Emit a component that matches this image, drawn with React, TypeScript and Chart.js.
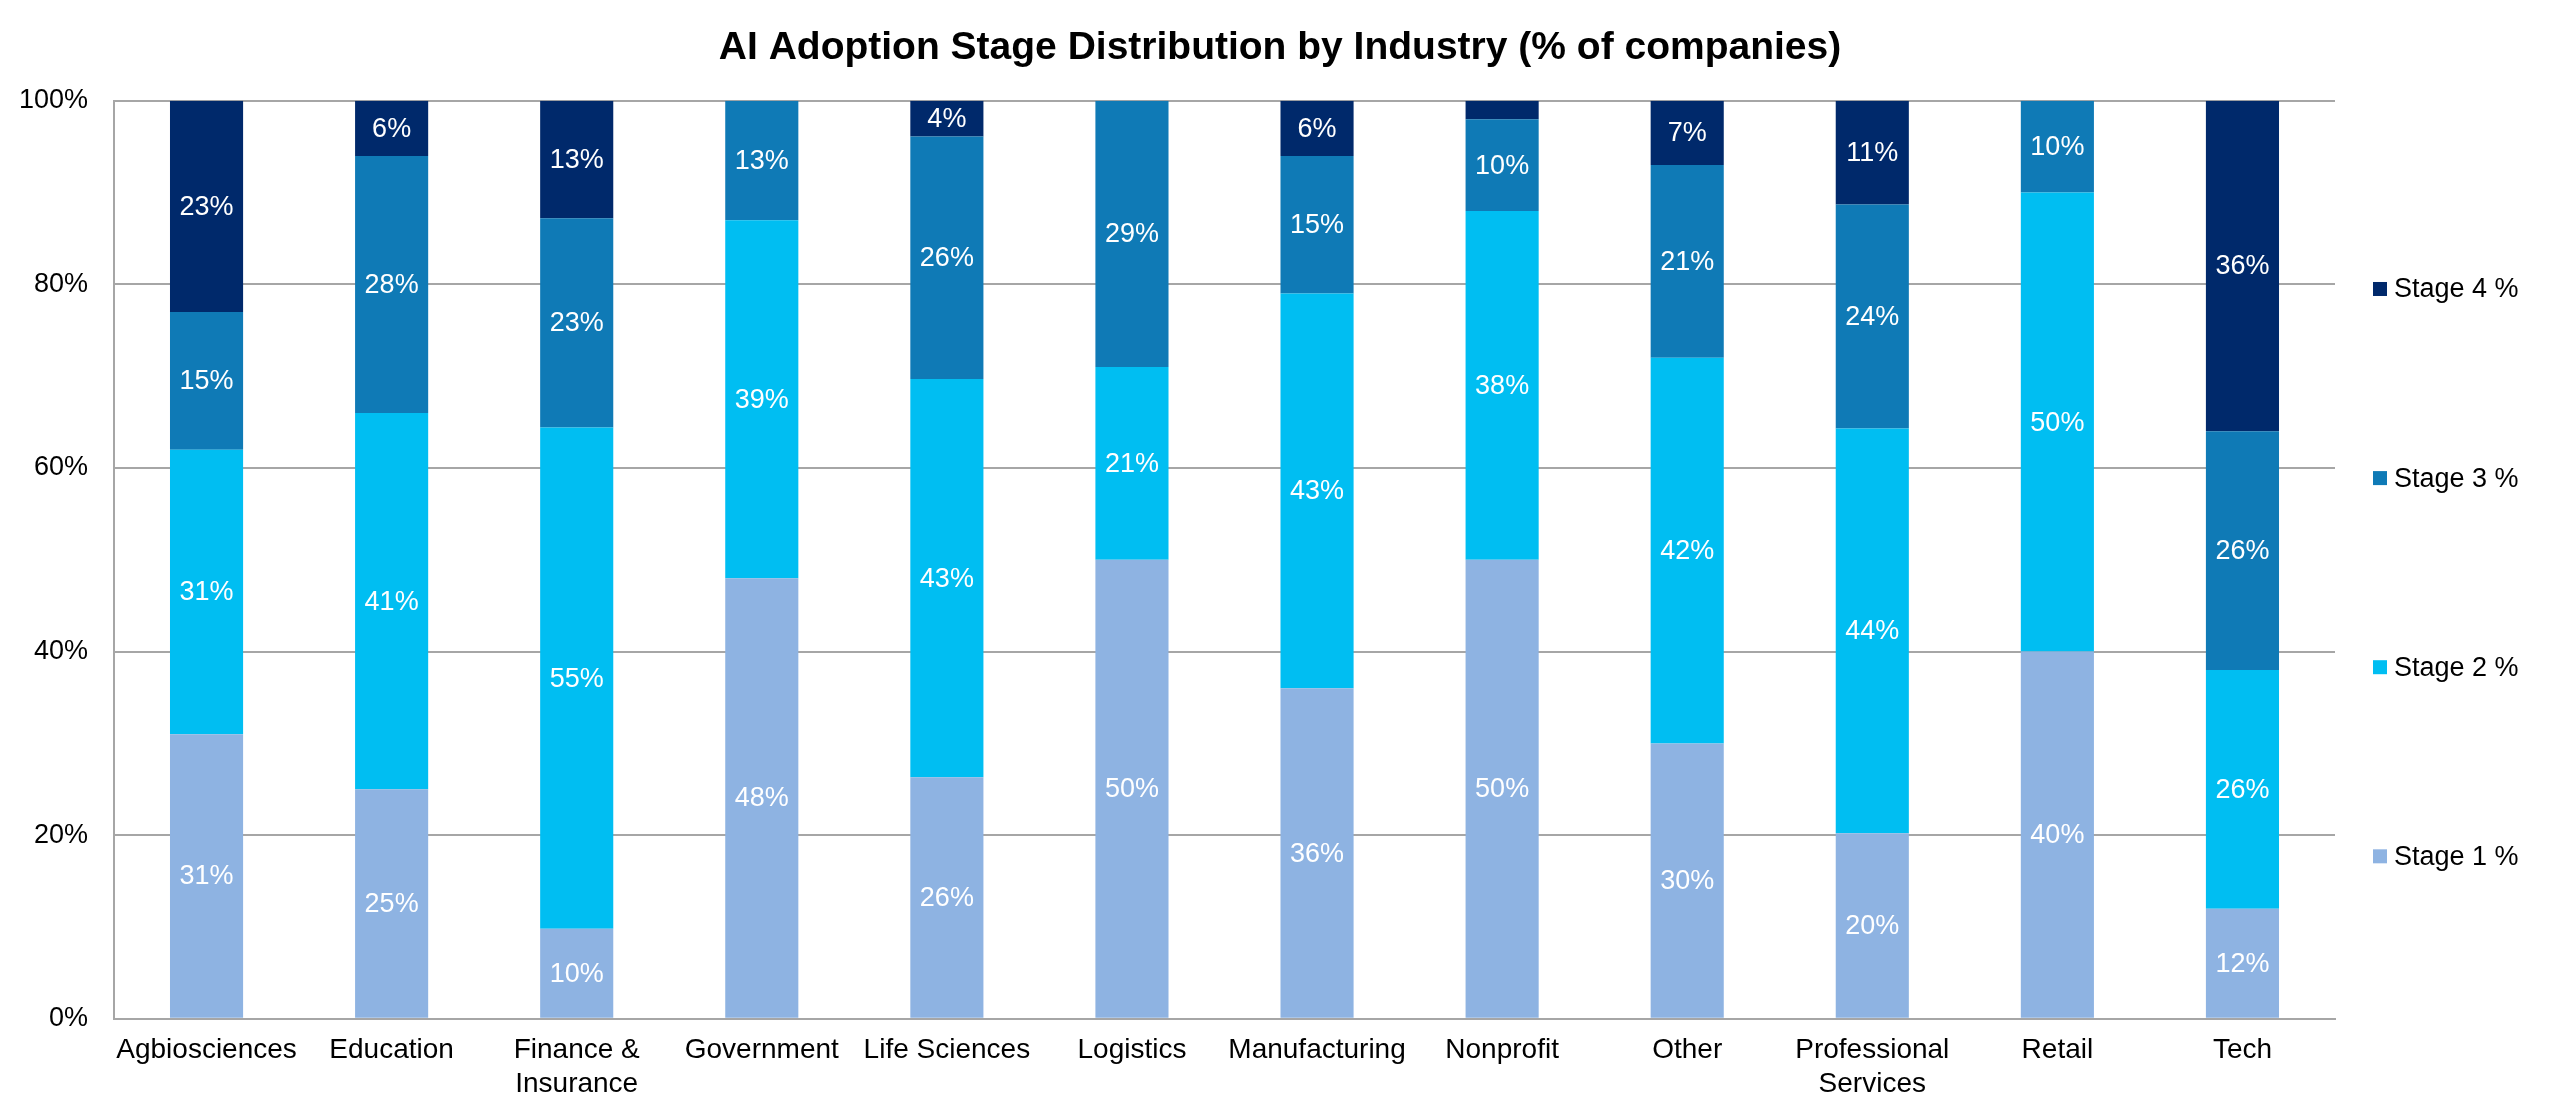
import { useEffect, useRef } from 'react';
import { Chart, registerables } from 'chart.js';

Chart.register(...registerables);

const industries = [
  'Agbiosciences',
  'Education',
  ['Finance &', 'Insurance'],
  'Government',
  'Life Sciences',
  'Logistics',
  'Manufacturing',
  'Nonprofit',
  'Other',
  ['Professional', 'Services'],
  'Retail',
  'Tech',
];

const stage1 = [31, 25, 9.8, 48, 26.3, 50, 36, 50, 30, 20.2, 40, 12];
const stage2 = [31, 41, 54.6, 39, 43.4, 21, 43, 38, 42, 44.1, 50, 26];
const stage3 = [15, 28, 22.8, 13, 26.4, 29, 15, 10, 21, 24.4, 10, 26];
const stage4 = [23, 6, 12.8, 0, 3.9, 0, 6, 2, 7, 11.3, 0, 36];

const yTicks = [0, 20, 40, 60, 80, 100];

const FONT = "'Liberation Sans', Arial, sans-serif";
const GRID = '#A6A6A6';

// white value labels in the middle of each segment
const segmentLabels = {
  id: 'segmentLabels',
  afterDatasetsDraw(chart: Chart) {
    const { ctx } = chart;
    ctx.save();
    ctx.font = `27px ${FONT}`;
    ctx.fillStyle = '#FFFFFF';
    ctx.textAlign = 'center';
    ctx.textBaseline = 'middle';
    chart.data.datasets.forEach((ds, di) => {
      const meta = chart.getDatasetMeta(di);
      meta.data.forEach((el: any, i) => {
        const v = ds.data[i] as number;
        if (!v || v < 3) return;
        const { x, y, base } = el.getProps(['x', 'y', 'base'], true);
        ctx.fillText(Math.round(v) + '%', x, (y + base) / 2 + 1);
      });
    });
    ctx.restore();
  },
};

// legend on the right, items spread over the plot height
const sideLegend = {
  id: 'sideLegend',
  afterDraw(chart: Chart) {
    const { ctx, chartArea } = chart;
    const h = chartArea.bottom - chartArea.top;
    const n = chart.data.datasets.length;
    ctx.save();
    ctx.font = `27px ${FONT}`;
    ctx.textBaseline = 'middle';
    ctx.textAlign = 'left';
    for (let k = 0; k < n; k++) {
      const ds = chart.data.datasets[n - 1 - k];
      const cy = chartArea.top + h * (0.205 + 0.206 * k);
      const bx = chartArea.right + 38;
      ctx.fillStyle = ds.backgroundColor as string;
      ctx.fillRect(bx, cy - 7, 14, 14);
      ctx.fillStyle = '#000000';
      ctx.fillText(ds.label as string, bx + 21, cy + 1);
    }
    ctx.restore();
  },
};

export default function App() {
  const canvasRef = useRef<HTMLCanvasElement>(null);

  useEffect(() => {
    document.body.style.margin = '0';
    document.body.style.overflow = 'hidden';
    if (!canvasRef.current) return;
    const chart = new Chart(canvasRef.current, {
      type: 'bar',
      data: {
        labels: industries,
        datasets: [
          { label: 'Stage 1 %', data: stage1, backgroundColor: '#8EB3E2' },
          { label: 'Stage 2 %', data: stage2, backgroundColor: '#00BEF2' },
          { label: 'Stage 3 %', data: stage3, backgroundColor: '#0F7AB6' },
          { label: 'Stage 4 %', data: stage4, backgroundColor: '#00296B' },
        ],
      },
      options: {
        animation: false,
        responsive: true,
        maintainAspectRatio: false,
        datasets: { bar: { categoryPercentage: 1, barPercentage: 0.395 } },
        layout: { padding: { bottom: 1 } },
        plugins: {
          legend: { display: false },
          tooltip: { enabled: false },
          title: {
            display: true,
            text: 'AI Adoption Stage Distribution by Industry (% of companies)',
            color: '#000000',
            font: { family: FONT, size: 39, weight: 'bold' },
            padding: { top: 25, bottom: 29 },
          },
        },
        scales: {
          x: {
            stacked: true,
            grid: { display: false, drawTicks: false },
            border: { display: true, color: GRID, width: 2 },
            ticks: {
              color: '#000000',
              font: { family: FONT, size: 28 },
              padding: 15,
              maxRotation: 0,
              autoSkip: false,
            },
          },
          y: {
            stacked: true,
            min: 0,
            max: 100,
            afterBuildTicks: (scale) => {
              scale.ticks = yTicks.map((v) => ({ value: v }));
            },
            afterFit: (scale) => {
              scale.width = 114;
            },
            grid: { color: GRID, lineWidth: 2, drawTicks: false },
            border: { display: true, color: GRID, width: 2 },
            ticks: {
              color: '#000000',
              font: { family: FONT, size: 27 },
              padding: 26,
              callback: (v) => v + '%',
            },
          },
          // empty axis that only keeps room for the legend
          legendRoom: {
            position: 'right',
            display: true,
            grid: { display: false, drawTicks: false },
            border: { display: false },
            ticks: { display: false },
            afterFit: (scale) => {
              scale.width = 225;
            },
          },
        },
      },
      plugins: [segmentLabels, sideLegend],
    });
    return () => {
      chart.destroy();
    };
  }, []);

  return (
    <div style={{ width: 2560, height: 1117, position: 'relative', background: '#FFFFFF' }}>
      <canvas ref={canvasRef} />
    </div>
  );
}
